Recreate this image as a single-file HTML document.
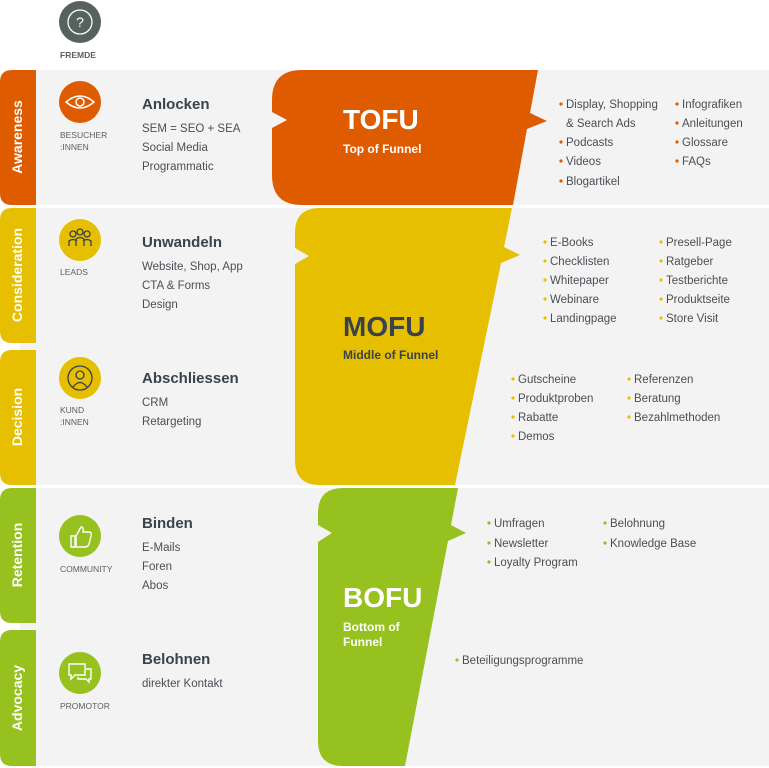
<!DOCTYPE html>
<html><head><meta charset="utf-8"><style>
html,body{margin:0;padding:0;background:#fff}
svg{display:block;font-family:"Liberation Sans",Arial,sans-serif}
.h{font-weight:bold;font-size:15px;fill:#3a424b}
.l{font-size:11.5px;fill:#4a4f55}
.s{font-size:8.5px;fill:#5a5f64}
.tab{font-weight:bold;font-size:14px;fill:#fff}
.r{font-size:11.5px;fill:#4a4f55}
</style></head><body>
<svg width="769" height="768" viewBox="0 0 769 768">
<!-- grey bands -->
<rect x="20" y="70" width="749" height="135" fill="#f3f3f3"/>
<rect x="20" y="208" width="749" height="277" fill="#f3f3f3"/>
<rect x="20" y="488" width="749" height="278" fill="#f3f3f3"/>
<!-- tabs -->
<path d="M12,70 H36 V205 H12 Q0,205 0,193 V82 Q0,70 12,70Z" fill="#df5b00"/>
<path d="M12,208 H36 V343 H12 Q0,343 0,331 V220 Q0,208 12,208Z" fill="#e6bf00"/>
<path d="M12,350 H36 V485 H12 Q0,485 0,473 V362 Q0,350 12,350Z" fill="#e6bf00"/>
<path d="M12,488 H36 V623 H12 Q0,623 0,611 V500 Q0,488 12,488Z" fill="#96c11e"/>
<path d="M12,630 H36 V766 H12 Q0,766 0,754 V642 Q0,630 12,630Z" fill="#96c11e"/>
<text class="tab" transform="translate(22,137) rotate(-90)" text-anchor="middle">Awareness</text>
<text class="tab" transform="translate(22,275) rotate(-90)" text-anchor="middle">Consideration</text>
<text class="tab" transform="translate(22,417) rotate(-90)" text-anchor="middle">Decision</text>
<text class="tab" transform="translate(22,555) rotate(-90)" text-anchor="middle">Retention</text>
<text class="tab" transform="translate(22,698) rotate(-90)" text-anchor="middle">Advocacy</text>
<!-- icons -->
<circle cx="80" cy="22" r="21" fill="#56625f"/>
<circle cx="80" cy="22" r="12" fill="none" stroke="#fff" stroke-width="1.3"/>
<text x="80" y="27" text-anchor="middle" font-size="14" fill="#fff">?</text>
<text class="s" x="60" y="58" font-weight="bold" fill="#3a424b">FREMDE</text>
<circle cx="80" cy="102" r="21" fill="#df5b00"/>
<path d="M66,102 Q80,90 94,102 Q80,114 66,102Z" fill="none" stroke="#fff" stroke-width="1.5"/>
<circle cx="80" cy="102" r="4" fill="none" stroke="#fff" stroke-width="1.5"/>
<text class="s" x="60" y="138">BESUCHER</text><text class="s" x="60" y="150">:INNEN</text>
<circle cx="80" cy="240" r="21" fill="#e6bf00"/>
<g fill="none" stroke="#3a424b" stroke-width="1.3"><circle cx="73" cy="234" r="3"/><circle cx="80" cy="232" r="3"/><circle cx="87" cy="234" r="3"/><path d="M69,246 v-5 q4,-3 8,0 M76,246 v-7 q4,-3 8,0 v7 M83,241 q4,-3 8,0 v5"/></g>
<text class="s" x="60" y="275">LEADS</text>
<circle cx="80" cy="378" r="21" fill="#e6bf00"/>
<circle cx="80" cy="378" r="12" fill="none" stroke="#3a424b" stroke-width="1.3"/>
<circle cx="80" cy="375" r="4" fill="none" stroke="#3a424b" stroke-width="1.3"/>
<path d="M73,387 q7,-9 14,0" fill="none" stroke="#3a424b" stroke-width="1.3"/>
<text class="s" x="60" y="413">KUND</text><text class="s" x="60" y="425">:INNEN</text>
<circle cx="80" cy="536" r="21" fill="#96c11e"/>
<path d="M71,536 h4 v11 h-4Z M76,536 l5,-9 q3,0 2,5 h7 q2,1 1,4 l-2,8 q-1,3 -4,3 h-9Z" fill="none" stroke="#fff" stroke-width="1.4"/>
<text class="s" x="60" y="572">COMMUNITY</text>
<circle cx="80" cy="673" r="21" fill="#96c11e"/>
<path d="M69,664 h16 v11 h-10 l-4,4 v-4 h-2Z M86,669 h5 v10 h-2 v3 l-3,-3 h-8 v-2" fill="none" stroke="#fff" stroke-width="1.4"/>
<text class="s" x="60" y="709">PROMOTOR</text>
<!-- left headings -->
<text class="h" x="142" y="109">Anlocken</text>
<text class="l" x="142" y="132">SEM = SEO + SEA</text>
<text class="l" x="142" y="151">Social Media</text>
<text class="l" x="142" y="170">Programmatic</text>
<text class="h" x="142" y="247">Unwandeln</text>
<text class="l" x="142" y="270">Website, Shop, App</text>
<text class="l" x="142" y="289">CTA &amp; Forms</text>
<text class="l" x="142" y="308">Design</text>
<text class="h" x="142" y="383">Abschliessen</text>
<text class="l" x="142" y="406">CRM</text>
<text class="l" x="142" y="425">Retargeting</text>
<text class="h" x="142" y="528">Binden</text>
<text class="l" x="142" y="551">E-Mails</text>
<text class="l" x="142" y="570">Foren</text>
<text class="l" x="142" y="589">Abos</text>
<text class="h" x="142" y="664">Belohnen</text>
<text class="l" x="142" y="687">direkter Kontakt</text>
<!-- funnel shapes -->
<path d="M302,70 L538,70 L530,113 L547,121 L527,129 L513,205 L302,205 Q272,205 272,175 L272,128 L287,120 L272,112 L272,100 Q272,70 302,70Z" fill="#df5b00"/>
<path d="M320,208 L512,208 L504,247 L520,255 L501,263 L455,485 L320,485 Q295,485 295,460 L295,264 L309,256 L295,248 L295,233 Q295,208 320,208Z" fill="#e6bf00"/>
<path d="M343,488 L458,488 L451,525 L466,533 L448,541 L405,766 L343,766 Q318,766 318,741 L318,542 L332,533 L318,525 L318,513 Q318,488 343,488Z" fill="#96c11e"/>
<text x="343" y="129" font-size="28" font-weight="bold" fill="#fff">TOFU</text>
<text x="343" y="153" font-size="12" font-weight="bold" fill="#fff">Top of Funnel</text>
<text x="343" y="336" font-size="28" font-weight="bold" fill="#3a424b">MOFU</text>
<text x="343" y="359" font-size="12" font-weight="bold" fill="#3a424b">Middle of Funnel</text>
<text x="343" y="607" font-size="28" font-weight="bold" fill="#fff">BOFU</text>
<text x="343" y="631" font-size="12" font-weight="bold" fill="#fff">Bottom of</text>
<text x="343" y="646" font-size="12" font-weight="bold" fill="#fff">Funnel</text>
<!-- right lists -->
<g class="r">
<g fill="#df5b00"><circle cx="561" cy="104" r="1.6"/><circle cx="561" cy="142" r="1.6"/><circle cx="561" cy="161" r="1.6"/><circle cx="561" cy="181" r="1.6"/><circle cx="677" cy="104" r="1.6"/><circle cx="677" cy="123" r="1.6"/><circle cx="677" cy="142" r="1.6"/><circle cx="677" cy="161" r="1.6"/></g>
<text x="566" y="108">Display, Shopping</text><text x="566" y="127">&amp; Search Ads</text><text x="566" y="146">Podcasts</text><text x="566" y="165">Videos</text><text x="566" y="185">Blogartikel</text>
<text x="682" y="108">Infografiken</text><text x="682" y="127">Anleitungen</text><text x="682" y="146">Glossare</text><text x="682" y="165">FAQs</text>
<g fill="#e6bf00"><circle cx="545" cy="242" r="1.6"/><circle cx="545" cy="261" r="1.6"/><circle cx="545" cy="280" r="1.6"/><circle cx="545" cy="299" r="1.6"/><circle cx="545" cy="318" r="1.6"/><circle cx="661" cy="242" r="1.6"/><circle cx="661" cy="261" r="1.6"/><circle cx="661" cy="280" r="1.6"/><circle cx="661" cy="299" r="1.6"/><circle cx="661" cy="318" r="1.6"/>
<circle cx="513" cy="379" r="1.6"/><circle cx="513" cy="398" r="1.6"/><circle cx="513" cy="417" r="1.6"/><circle cx="513" cy="436" r="1.6"/><circle cx="629" cy="379" r="1.6"/><circle cx="629" cy="398" r="1.6"/><circle cx="629" cy="417" r="1.6"/></g>
<text x="550" y="246">E-Books</text><text x="550" y="265">Checklisten</text><text x="550" y="284">Whitepaper</text><text x="550" y="303">Webinare</text><text x="550" y="322">Landingpage</text>
<text x="666" y="246">Presell-Page</text><text x="666" y="265">Ratgeber</text><text x="666" y="284">Testberichte</text><text x="666" y="303">Produktseite</text><text x="666" y="322">Store Visit</text>
<text x="518" y="383">Gutscheine</text><text x="518" y="402">Produktproben</text><text x="518" y="421">Rabatte</text><text x="518" y="440">Demos</text>
<text x="634" y="383">Referenzen</text><text x="634" y="402">Beratung</text><text x="634" y="421">Bezahlmethoden</text>
<g fill="#96c11e"><circle cx="489" cy="523" r="1.6"/><circle cx="489" cy="543" r="1.6"/><circle cx="489" cy="562" r="1.6"/><circle cx="605" cy="523" r="1.6"/><circle cx="605" cy="543" r="1.6"/><circle cx="457" cy="660" r="1.6"/></g>
<text x="494" y="527">Umfragen</text><text x="494" y="547">Newsletter</text><text x="494" y="566">Loyalty Program</text>
<text x="610" y="527">Belohnung</text><text x="610" y="547">Knowledge Base</text>
<text x="462" y="664">Beteiligungsprogramme</text>
</g>
</svg>
</body></html>
